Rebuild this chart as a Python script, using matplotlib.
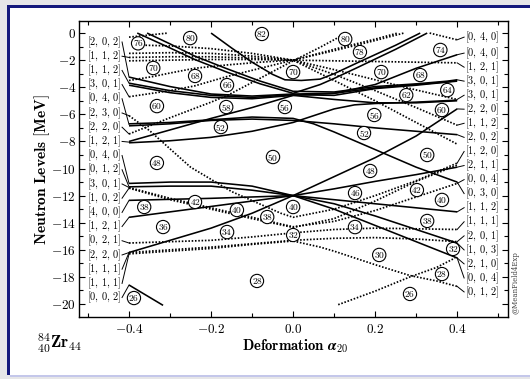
import matplotlib
matplotlib.use('Agg')
import matplotlib.pyplot as plt
from matplotlib.patches import Rectangle
from matplotlib.ticker import MultipleLocator, FixedLocator, FuncFormatter

plt.rcParams['mathtext.fontset'] = 'cm'
plt.rcParams['font.family'] = ['DejaVu Serif']

# ---------------- data (deformation alpha20, energy MeV) ----------------
# positive parity levels (solid)
solid_g9 = [
    [(-0.4, -16.2), (-0.3, -15.3), (-0.2, -14.4), (-0.1, -13.3), (0.0, -12.0), (0.1, -10.6), (0.2, -9.2), (0.3, -7.6), (0.35, -6.6), (0.4, -5.6)],
    [(-0.4, -13.6), (-0.2, -12.8), (0.0, -12.0), (0.1, -11.5), (0.2, -10.95), (0.3, -10.45), (0.4, -9.9)],
    [(-0.4, -12.35), (-0.2, -12.2), (0.0, -12.0), (0.2, -12.6), (0.4, -13.2)],
    [(-0.4, -11.1), (-0.3, -11.0), (-0.2, -11.0), (-0.1, -11.3), (0.0, -12.0), (0.1, -12.6), (0.2, -13.5), (0.3, -14.5), (0.4, -15.5)],
    [(-0.4, -11.35), (-0.3, -11.3), (-0.2, -11.3), (-0.1, -11.6), (0.0, -12.0), (0.1, -13.0), (0.2, -14.2), (0.3, -15.4), (0.4, -16.6)],
]
solid_d5 = [
    [(-0.4, -6.7), (-0.3, -6.6), (-0.2, -6.4), (-0.1, -6.2), (0.0, -6.3), (0.05, -6.7), (0.1, -7.3), (0.2, -8.6), (0.3, -9.9), (0.4, -11.0)],
    [(-0.4, -6.85), (-0.3, -6.7), (-0.2, -6.45), (-0.1, -6.35), (0.0, -6.45), (0.1, -6.7), (0.2, -7.0), (0.3, -7.25), (0.4, -7.5)],
    [(-0.4, -8.1), (-0.3, -7.95), (-0.2, -7.7), (-0.1, -7.25), (0.0, -6.6), (0.05, -6.1), (0.1, -5.6), (0.15, -5.3), (0.2, -5.2), (0.3, -5.1), (0.4, -4.95)],
]
solid_sdg = [
    [(-0.4, -8.0), (-0.3, -7.15), (-0.2, -6.3), (-0.1, -5.5), (0.0, -4.6), (0.1, -4.45), (0.2, -3.8), (0.3, -2.6), (0.35, -2.1), (0.4, -1.6)],
    [(-0.4, -3.25), (-0.3, -3.95), (-0.2, -4.5), (-0.1, -4.65), (0.0, -4.5), (0.1, -4.45), (0.2, -4.05), (0.3, -3.8), (0.376, -3.6), (0.4, -3.5)],
    [(-0.4, -3.7), (-0.3, -4.25), (-0.2, -4.6), (-0.1, -4.75), (0.0, -4.55), (0.1, -4.6), (0.2, -4.1), (0.3, -3.85), (0.376, -3.62), (0.4, -3.55)],
    [(-0.4, -3.85), (-0.3, -4.4), (-0.2, -4.75), (-0.1, -4.85), (0.0, -4.6), (0.1, -4.9), (0.2, -5.15), (0.3, -5.15), (0.4, -5.0)],
    [(-0.2, 0.0), (-0.15, -1.1), (-0.1, -2.15), (-0.05, -3.05), (-0.02, -3.45), (0.02, -3.5), (0.066, -3.4), (0.1, -3.0), (0.16, -2.15), (0.25, -0.9), (0.31, 0.0)],
    [(-0.38, 0.0), (-0.3, -1.1), (-0.24, -1.95), (-0.16, -2.9), (-0.08, -3.75), (0.0, -4.45), (0.066, -3.8), (0.1, -3.35), (0.16, -2.5), (0.25, -1.2), (0.327, 0.0)],
    [(-0.356, 0.0), (-0.3, -0.8), (-0.24, -1.7), (-0.16, -2.65), (-0.08, -3.55), (0.0, -4.3), (0.1, -4.35), (0.2, -3.95), (0.3, -3.75), (0.376, -3.55), (0.4, -3.45)],
]
solid_f7 = [
    [(-0.4, -18.6), (-0.317, -20.1)],
]
# negative parity levels (dotted)
dotted_h11 = [
    [(-0.4, -7.45), (-0.3, -6.25), (-0.2, -5.1), (-0.16, -4.6), (-0.1, -3.65), (-0.05, -2.85), (0.0, -2.05), (0.066, -1.05), (0.13, 0.0)],
    [(-0.4, -4.7), (-0.3, -4.25), (-0.24, -3.9), (-0.2, -3.55), (-0.16, -3.2), (-0.1, -2.75), (0.0, -2.0), (0.1, -1.2), (0.2, -0.45), (0.255, 0.0)],
    [(-0.4, -3.5), (-0.34, -3.2), (-0.3, -2.95), (-0.24, -2.6), (-0.16, -2.35), (-0.08, -2.15), (0.0, -2.0), (0.1, -2.05), (0.2, -2.1), (0.3, -2.15), (0.4, -2.2)],
    [(-0.4, -2.05), (-0.3, -2.0), (-0.2, -1.95), (-0.1, -1.95), (0.0, -2.0), (0.1, -2.7), (0.2, -3.45), (0.3, -4.2), (0.4, -4.9)],
    [(-0.4, -1.8), (-0.3, -1.75), (-0.2, -1.75), (-0.1, -1.85), (0.0, -2.0), (0.066, -2.7), (0.1, -3.05), (0.2, -4.25), (0.3, -5.5), (0.4, -6.8)],
    [(-0.4, -1.5), (-0.3, -1.45), (-0.2, -1.5), (-0.1, -1.7), (0.0, -2.0), (0.1, -3.5), (0.2, -5.0), (0.3, -6.6), (0.4, -8.2)],
    [(-0.36, -0.9), (-0.3, -0.95), (-0.2, -1.15), (-0.1, -1.5), (0.0, -2.0), (0.1, -1.3), (0.2, -0.55), (0.27, 0.0)],
]
dotted_pf = [
    [(-0.4, -6.1), (-0.35, -7.2), (-0.25, -9.9), (-0.15, -11.7), (-0.09, -12.5), (-0.03, -13.3), (0.0, -13.6), (0.1, -13.0), (0.2, -12.0), (0.3, -10.9), (0.4, -9.6)],
    [(-0.4, -11.4), (-0.3, -12.2), (-0.2, -12.9), (-0.1, -13.6), (0.0, -14.3), (0.1, -13.9), (0.2, -13.1), (0.3, -12.1), (0.4, -11.1)],
    [(-0.4, -11.45), (-0.3, -12.3), (-0.2, -13.0), (-0.1, -13.7), (0.0, -14.35), (0.1, -13.7), (0.2, -12.4), (0.3, -10.95), (0.4, -9.75)],
    [(-0.4, -15.5), (-0.3, -15.4), (-0.2, -15.3), (-0.1, -15.05), (0.0, -14.75), (0.1, -14.5), (0.2, -14.4), (0.3, -14.45), (0.4, -14.5)],
    [(-0.4, -16.2), (-0.3, -16.0), (-0.2, -15.8), (-0.1, -15.55), (0.0, -15.3), (0.1, -15.15), (0.2, -15.1), (0.3, -15.2), (0.4, -15.4)],
    [(-0.4, -16.3), (-0.3, -16.1), (-0.2, -15.9), (-0.1, -15.6), (0.0, -15.35), (0.066, -15.8), (0.1, -16.1), (0.2, -17.1), (0.285, -17.9), (0.35, -18.3), (0.4, -18.7)],
    [(0.11, -20.05), (0.2, -19.05), (0.285, -18.0), (0.35, -17.3), (0.395, -16.6)],
]
dotted_top = [
    [(-0.4, -0.3), (-0.305, 0.0)],
    [(0.333, 0.0), (0.4, -0.5)],
]

# asymptotic labels
left_labels = ['[2,0,2]', '[1,1,2]', '[1,1,2]', '[3,0,1]', '[0,4,0]', '[2,3,0]', '[2,2,0]', '[1,2,1]',
               '[0,4,0]', '[0,1,2]', '[3,0,1]', '[1,0,2]', '[4,0,0]', '[1,2,1]', '[0,2,1]', '[2,2,0]',
               '[1,1,1]', '[1,1,1]', '[0,0,2]']
left_label_E = [-0.66, -1.71, -2.76, -3.80, -4.85, -5.90, -6.95, -8.00, -9.04, -10.09, -11.14,
                -12.19, -13.24, -14.28, -15.33, -16.38, -17.43, -18.48, -19.52]
left_link_E = [-3.25, -1.8, -3.7, -4.7, -6.75, -6.1, -7.45, -8.05, -11.1, -11.35, -11.4, -11.45,
               -12.35, -13.6, -15.5, -16.2, -16.2, -16.3, -18.6]
right_labels = ['[0,4,0]', '[0,4,0]', '[1,2,1]', '[3,0,1]', '[3,0,1]', '[2,2,0]', '[1,1,2]', '[2,0,2]',
                '[1,2,0]', '[2,1,1]', '[0,0,4]', '[0,3,0]', '[1,1,2]', '[1,1,1]', '[2,0,1]', '[1,0,3]',
                '[2,1,0]', '[0,0,4]', '[0,1,2]']
right_label_E = [-0.30, -1.48, -2.52, -3.55, -4.59, -5.62, -6.66, -7.70, -8.74, -9.78, -10.82,
                 -11.85, -12.89, -13.93, -14.97, -16.01, -17.04, -18.08, -19.11]
right_link_E = [-0.5, -1.6, -2.2, -3.45, -4.9, -5.6, -6.8, -7.5, -9.6, -9.9, -11.1, -11.0,
                -13.2, -14.5, -15.4, -15.5, -16.6, -16.6, -18.7]

# circled gap particle numbers
magic_numbers = ['76', '80', '82', '70', '68', '66', '70', '60', '58', '56', '52', '48', '50',
                 '38', '42', '40', '38', '40', '36', '34', '32', '28', '26',
                 '80', '78', '74', '70', '68', '64', '62', '60', '56', '52', '50', '48', '46',
                 '42', '40', '38', '34', '32', '30', '28', '26']
magic_x = [-0.378, -0.251, -0.076, -0.341, -0.239, -0.161, 0.0, -0.332, -0.163, -0.02, -0.176, -0.332, -0.049,
           -0.363, -0.239, -0.137, -0.063, 0.0, -0.317, -0.161, 0.0, -0.088, -0.388,
           0.127, 0.163, 0.359, 0.215, 0.310, 0.376, 0.276, 0.363, 0.198, 0.173, 0.327, 0.188, 0.151,
           0.302, 0.363, 0.327, 0.151, 0.39, 0.21, 0.363, 0.285]
magic_E = [-0.76, -0.37, -0.07, -2.58, -3.17, -3.84, -2.88, -5.39, -5.46, -5.46, -6.94, -9.59, -9.15,
           -12.84, -12.47, -13.06, -13.58, -12.84, -14.32, -14.69, -14.91, -18.30, -19.56,
           -0.44, -1.40, -1.25, -2.88, -3.10, -4.21, -4.58, -5.68, -6.05, -7.38, -9.0, -10.18, -11.81,
           -11.59, -12.32, -13.87, -14.32, -15.94, -16.38, -17.79, -19.26]

x_ticks = [-0.4, -0.2, 0.0, 0.2, 0.4]
y_ticks = [0, -2, -4, -6, -8, -10, -12, -14, -16, -18, -20]

# ---------------- figure ----------------
W, H = 530, 379
fig = plt.figure(figsize=(W / 100, H / 100), dpi=100)
fig.patch.set_facecolor('#e6e6e8')
navy = '#15197c'
fig.patches.append(Rectangle((10 / W, 4 / H), 1 - 10 / W, 1 - 12 / H, transform=fig.transFigure,
                             facecolor='white', edgecolor='none', zorder=-3))
fig.patches.append(Rectangle((7 / W, 1 - 8 / H), 1 - 7 / W, 3 / H, transform=fig.transFigure,
                             facecolor=navy, edgecolor='none', zorder=-2))
fig.patches.append(Rectangle((7 / W, 4 / H), 3 / W, 1 - 9 / H, transform=fig.transFigure,
                             facecolor=navy, edgecolor='none', zorder=-2))
fig.patches.append(Rectangle((10 / W, 2 / H), 1 - 10 / W, 2 / H, transform=fig.transFigure,
                             facecolor='#c4c7ea', edgecolor='none', zorder=-2))

ax = fig.add_axes([79 / W, 1 - 317 / H, 429 / W, 296 / H])
ax.set_facecolor('white')
ax.set_xlim(-0.522, 0.524)
ax.set_ylim(-20.96, 0.89)


def draw(group, style):
    for pts in group:
        xs = [p[0] for p in pts]
        ys = [p[1] for p in pts]
        if style == 'solid':
            ax.plot(xs, ys, color='black', lw=1.15, solid_capstyle='butt', zorder=3)
        else:
            ax.plot(xs, ys, color='black', lw=1.25, linestyle=(0, (0.9, 1.0)), zorder=3)


for g in (solid_g9, solid_d5, solid_sdg, solid_f7):
    draw(g, 'solid')
for g in (dotted_h11, dotted_pf, dotted_top):
    draw(g, 'dotted')

# label connectors and labels
for lab, le, ke in zip(left_labels, left_label_E, left_link_E):
    ax.plot([-0.417, -0.400], [le, ke], color='black', lw=0.7, zorder=3)
    ax.text(-0.419, le, r'$' + lab.replace(',', r',\,') + r'$', ha='right', va='center', fontsize=7.4)
for lab, le, ke in zip(right_labels, right_label_E, right_link_E):
    ax.plot([0.400, 0.417], [ke, le], color='black', lw=0.7, zorder=3)
    ax.text(0.419, le, r'$' + lab.replace(',', r',\,') + r'$', ha='left', va='center', fontsize=7.4)

for n, x, e in zip(magic_numbers, magic_x, magic_E):
    ax.text(x, e, r'$' + n + r'$', ha='center', va='center', fontsize=6.8, zorder=6,
            bbox=dict(boxstyle='circle,pad=0.12', fc='white', ec='black', lw=0.8))

# axes styling
ax.xaxis.set_major_locator(FixedLocator(x_ticks))
ax.xaxis.set_minor_locator(MultipleLocator(0.1))
ax.yaxis.set_major_locator(FixedLocator(y_ticks))
ax.yaxis.set_minor_locator(MultipleLocator(1))
ax.xaxis.set_major_formatter(FuncFormatter(lambda v, p: r'$\mathbf{%s}$' % ('%.1f' % v).replace('-0.0', '0.0')))
ax.yaxis.set_major_formatter(FuncFormatter(lambda v, p: r'$\mathbf{%d}$' % int(round(v))))
ax.tick_params(which='both', direction='in', top=True, right=True, width=0.8)
ax.tick_params(which='major', length=4)
ax.tick_params(which='minor', length=3)
ax.tick_params(axis='x', which='major', labelsize=9.5, pad=4)
ax.tick_params(axis='y', which='major', labelsize=9.5, pad=2)
for s in ax.spines.values():
    s.set_linewidth(1.0)

fig.text(295 / W, 1 - 346.5 / H, r'$\mathbf{Deformation}\ \boldsymbol{\alpha}_{\mathbf{20}}$',
         ha='center', va='center', fontsize=10.6)
fig.text(42 / W, 1 - 169 / H, r'$\mathbf{Neutron\ Levels\ [MeV]}$', rotation=90,
         ha='center', va='center', fontsize=11.2)
fig.text(37 / W, 1 - 343 / H, r'${}^{84}_{40}\mathbf{Zr}_{44}$', ha='left', va='center', fontsize=12)
fig.text(515 / W, 1 - 283 / H, '@MeanField4Exp', rotation=90, ha='center', va='center',
         fontsize=5, color='#444444', family='DejaVu Serif')

fig.savefig('out.png', dpi=100, facecolor=fig.get_facecolor())
